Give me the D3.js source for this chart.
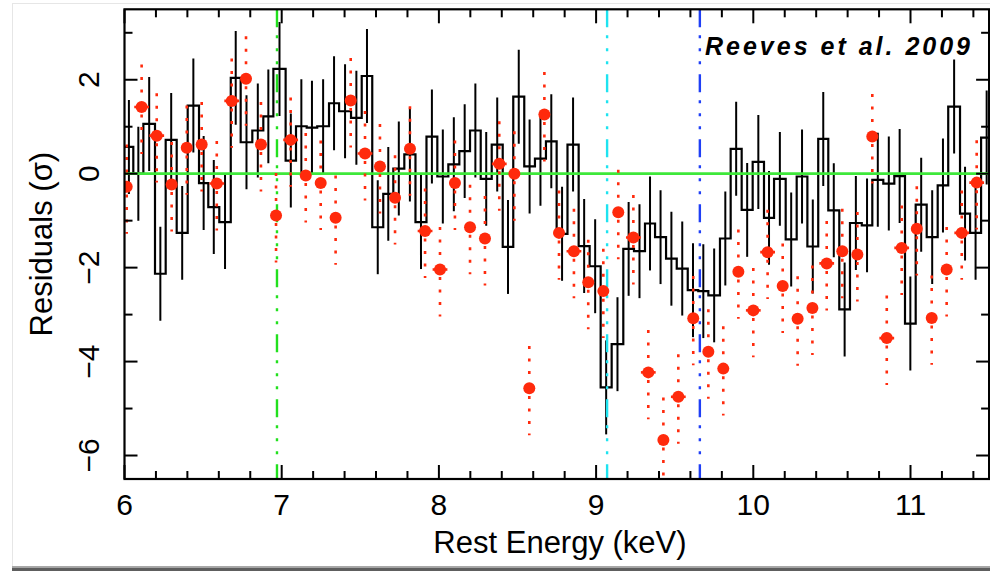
<!DOCTYPE html>
<html>
<head>
<meta charset="utf-8">
<script src="https://cdn.jsdelivr.net/npm/d3@7/dist/d3.min.js"></script>
<style>
  html, body { margin: 0; padding: 0; background: #fff; }
  svg { display: block; }
  text { font-family: "Liberation Sans", Arial, Helvetica, sans-serif; fill: #000; }
</style>
</head>
<body>
<svg id="chart" width="990" height="571"></svg>
<script>
// ---- data -------------------------------------------------------------
// Black spectrum: bin edges (keV, rest frame) and residuals (sigma)
const binEdges = [
  6.00, 6.056, 6.120, 6.194, 6.262, 6.332, 6.402, 6.474, 6.533, 6.603,
  6.676, 6.739, 6.813, 6.883, 6.947, 7.025, 7.091, 7.159, 7.226, 7.301,
  7.365, 7.441, 7.509, 7.576, 7.646, 7.710, 7.780, 7.851, 7.921, 7.990,
  8.060, 8.130, 8.198, 8.266, 8.336, 8.406, 8.473, 8.543, 8.611, 8.681,
  8.749, 8.818, 8.889, 8.959, 9.029, 9.099, 9.173, 9.241, 9.311, 9.375,
  9.445, 9.513, 9.583, 9.650, 9.714, 9.788, 9.856, 9.926, 9.996, 10.068,
  10.132, 10.206, 10.276, 10.344, 10.413, 10.477, 10.547, 10.615, 10.690, 10.757,
  10.827, 10.897, 10.965, 11.033, 11.103, 11.173, 11.240, 11.315, 11.379, 11.449,
  11.52
];
const binResid = [
  0.57, 0.00, 1.06, -2.13, 0.72, -1.26, 1.45, -0.20, -0.71, -1.03,
  2.04, 0.67, 0.92, 1.22, 2.23, 0.28, 1.01, 0.98, 1.01, 1.50,
  1.33, 1.19, 2.08, -1.14, -0.43, 0.11, 0.41, -1.03, 0.79, -0.06,
  0.20, 0.48, 0.92, -0.11, 0.62, -1.56, 1.64, 0.155, 0.32, 0.69,
  -1.28, 0.62, -1.54, -1.97, -4.55, -3.63, -1.60, -1.65, -1.06, -1.35,
  -1.81, -2.02, -2.48, -2.50, -2.59, -1.38, 0.53, -0.77, 0.25, -0.94,
  -0.11, -1.40, -0.06, -1.55, 0.74, -0.78, -2.89, -1.05, -1.10, -0.13,
  -0.21, -0.05, -3.19, -0.66, -1.35, -0.25, 1.43, -0.85, -1.26, 0.77
];

// Red spectrum: energies (keV), residuals (sigma), energy half-widths drawn
const redEnergy = [
  6.014, 6.109, 6.205, 6.300, 6.396, 6.491, 6.587, 6.682, 6.773, 6.868,
  6.964, 7.057, 7.153, 7.248, 7.343, 7.439, 7.530, 7.625, 7.721, 7.816,
  7.912, 8.007, 8.102, 8.198, 8.293, 8.384, 8.480, 8.575, 8.671, 8.764,
  8.859, 8.950, 9.046, 9.141, 9.237, 9.332, 9.428, 9.523, 9.618, 9.714,
  9.809, 9.905, 10.000, 10.091, 10.187, 10.282, 10.376, 10.467, 10.566, 10.662,
  10.757, 10.849, 10.944, 11.040, 11.135, 11.230, 11.326, 11.421
];
const redResid = [
  -0.28, 1.42, 0.81, -0.23, 0.55, 0.62, -0.21, 1.55, 2.02, 0.62,
  -0.89, 0.72, -0.04, -0.20, -0.94, 1.56, 0.43, 0.155, -0.51, 0.53,
  -1.22, -2.04, -0.20, -1.14, -1.38, 0.21, 0.00, -4.57, 1.26, -1.26,
  -1.65, -2.31, -2.50, -0.82, -1.36, -4.23, -5.67, -4.75, -3.08, -3.79,
  -4.15, -2.09, -2.91, -1.67, -2.39, -3.09, -2.86, -1.91, -1.65, -1.72,
  0.79, -3.50, -1.58, -1.17, -3.07, -2.04, -1.26, -0.19
];
const redXErr = [
  0, 0.047, 0.047, 0, 0, 0, 0.047, 0.047, 0, 0,
  0, 0.047, 0, 0, 0, 0, 0.047, 0, 0, 0,
  0.047, 0.047, 0, 0, 0, 0.047, 0, 0, 0, 0,
  0.047, 0, 0, 0, 0.047, 0.047, 0, 0.047, 0, 0,
  0, 0, 0.047, 0.047, 0, 0, 0, 0.047, 0, 0,
  0, 0.047, 0.047, 0, 0, 0, 0.047, 0.047
];
// residuals are in units of sigma, so each error bar spans +/- 1
const residErr = 1;

// Line energies marked by vertical lines (keV)
const lineEnergy = [6.97, 9.07, 9.66];
const lineColor  = ["#22e01e", "#1ee3f0", "#1f3ff5"];

// Axis ticks
const xMajor = [6, 7, 8, 9, 10, 11];
const xMinor = [6.2, 6.4, 6.6, 6.8, 7.2, 7.4, 7.6, 7.8, 8.2, 8.4, 8.6, 8.8,
                9.2, 9.4, 9.6, 9.8, 10.2, 10.4, 10.6, 10.8, 11.2, 11.4];
const yMajor = [-6, -4, -2, 0, 2];
const yMinor = [-5, -3, -1, 1, 3];
const yTickText = ["\u22126", "\u22124", "\u22122", "0", "2"];

// ---- layout -----------------------------------------------------------
const svg = d3.select("#chart");
const X0 = 124.5, X1 = 989.1, Y0 = 479, Y1 = 9.3;
const x = d3.scaleLinear().domain([6, 11.5]).range([X0, X1]);
const y = d3.scaleLinear().domain([-6.5, 3.5]).range([Y0, Y1]);

// page frame with a soft drop shadow along the bottom
svg.append("rect").attr("x", 0).attr("y", 0).attr("width", 990).attr("height", 571).attr("fill", "#fff");
svg.append("rect").attr("x", 12.5).attr("y", 3.5).attr("width", 990).attr("height", 564)
   .attr("fill", "#fff").attr("stroke", "#e6e6e6").attr("stroke-width", 1);
svg.append("rect").attr("x", 12).attr("y", 567.5).attr("width", 980).attr("height", 4).attr("fill", "#5e5e5e");
svg.append("rect").attr("x", 12).attr("y", 566).attr("width", 980).attr("height", 1.5).attr("fill", "#a8a8a8");

svg.append("clipPath").attr("id", "plotClip")
   .append("rect").attr("x", X0).attr("y", Y1).attr("width", X1 - X0).attr("height", Y0 - Y1);
const plot = svg.append("g").attr("clip-path", "url(#plotClip)");

// ---- black binned residuals ------------------------------------------
const stepPts = [];
binResid.forEach((v, i) => {
  stepPts.push([binEdges[i], v]);
  stepPts.push([binEdges[i + 1], v]);
});
plot.append("path")
  .datum(stepPts)
  .attr("fill", "none").attr("stroke", "#000").attr("stroke-width", 2.2)
  .attr("stroke-linejoin", "miter")
  .attr("d", d3.line().x(d => x(d[0])).y(d => y(d[1])));

plot.append("g").selectAll("line")
  .data(binResid)
  .join("line")
  .attr("x1", (d, i) => x((binEdges[i] + binEdges[i + 1]) / 2))
  .attr("x2", (d, i) => x((binEdges[i] + binEdges[i + 1]) / 2))
  .attr("y1", d => y(d + residErr))
  .attr("y2", d => y(d - residErr))
  .attr("stroke", "#000").attr("stroke-width", 2);

// ---- vertical line markers -------------------------------------------
plot.append("g").selectAll("line")
  .data(lineEnergy)
  .join("line")
  .attr("x1", d => x(d)).attr("x2", d => x(d))
  .attr("y1", Y1).attr("y2", Y0)
  .attr("stroke", (d, i) => lineColor[i])
  .attr("stroke-width", 2.4)
  .attr("stroke-dasharray", "18 8 3 10 3 10 3 10");

// zero line
plot.append("line")
  .attr("x1", X0).attr("x2", X1).attr("y1", y(0)).attr("y2", y(0))
  .attr("stroke", "#3ee83a").attr("stroke-width", 2.8);

// ---- red residuals ------------------------------------------------------
const red = "#ff2a0c";
const redG = plot.append("g");
redG.selectAll("line.ey")
  .data(redResid)
  .join("line").attr("class", "ey")
  .attr("x1", (d, i) => x(redEnergy[i])).attr("x2", (d, i) => x(redEnergy[i]))
  .attr("y1", d => y(d + residErr)).attr("y2", d => y(d - residErr))
  .attr("stroke", red).attr("stroke-width", 2.6)
  .attr("stroke-dasharray", "3 9.5").attr("stroke-dashoffset", -4.5);
redG.selectAll("line.ex")
  .data(redResid)
  .join("line").attr("class", "ex")
  .attr("x1", (d, i) => x(redEnergy[i] - redXErr[i]))
  .attr("x2", (d, i) => x(redEnergy[i] + redXErr[i]))
  .attr("y1", d => y(d)).attr("y2", d => y(d))
  .attr("stroke", red).attr("stroke-width", 2.6);
redG.selectAll("circle")
  .data(redResid)
  .join("circle")
  .attr("cx", (d, i) => x(redEnergy[i]))
  .attr("cy", d => y(d))
  .attr("r", 6)
  .attr("fill", red);

// ---- axes -----------------------------------------------------------------
const axisG = svg.append("g").attr("stroke", "#000").attr("stroke-width", 2).attr("fill", "none");
axisG.append("rect").attr("x", X0).attr("y", Y1).attr("width", X1 - X0).attr("height", Y0 - Y1)
  .attr("stroke-width", 2.2);

function ticks(values, len, side) {
  axisG.append("g").selectAll("line").data(values).join("line")
    .attr("x1", d => side === "b" || side === "t" ? x(d) : (side === "l" ? X0 : X1))
    .attr("x2", d => side === "b" || side === "t" ? x(d) : (side === "l" ? X0 + len : X1 - len))
    .attr("y1", d => side === "b" ? Y0 : side === "t" ? Y1 : y(d))
    .attr("y2", d => side === "b" ? Y0 - len : side === "t" ? Y1 + len : y(d));
}
ticks(xMajor, 14, "b"); ticks(xMinor, 8, "b");
ticks(xMajor, 14, "t"); ticks(xMinor, 8, "t");
ticks(yMajor, 13, "l"); ticks(yMinor, 8, "l");
ticks(yMajor, 13, "r"); ticks(yMinor, 8, "r");

// x tick labels
svg.append("g").selectAll("text").data(xMajor).join("text")
  .attr("x", d => x(d)).attr("y", 515)
  .attr("text-anchor", "middle").attr("font-size", 30)
  .text(d => d);

// y tick labels, drawn along the axis
svg.append("g").selectAll("text").data(yMajor).join("text")
  .attr("transform", d => `translate(99,${y(d)}) rotate(-90)`)
  .attr("text-anchor", "middle").attr("font-size", 30)
  .text((d, i) => yTickText[i]);

// axis titles
svg.append("text").attr("x", 560).attr("y", 553)
  .attr("text-anchor", "middle").attr("font-size", 31)
  .text("Rest Energy (keV)");
svg.append("text").attr("transform", `translate(52,${(Y0 + Y1) / 2}) rotate(-90)`)
  .attr("text-anchor", "middle").attr("font-size", 31)
  .text("Residuals (\u03c3)");

// reference note
svg.append("text").attr("x", 705).attr("y", 55)
  .attr("font-size", 25).attr("font-weight", "bold").attr("font-style", "italic")
  .attr("textLength", 265).attr("lengthAdjust", "spacing")
  .text("Reeves et al. 2009");
</script>
</body>
</html>
